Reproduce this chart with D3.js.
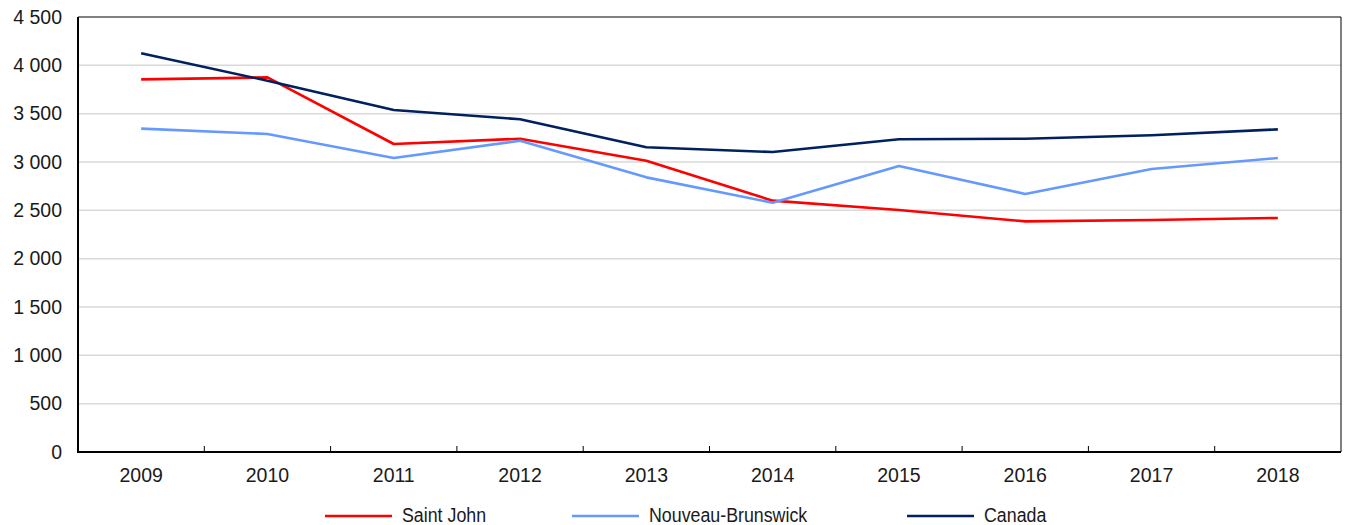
<!DOCTYPE html>
<html>
<head>
<meta charset="utf-8">
<script src="https://cdn.jsdelivr.net/npm/d3@7"></script>
<style>
  body { margin: 0; background: #fff; }
  svg { display: block; font-family: "Liberation Sans", Arial, sans-serif; }
</style>
</head>
<body>
<main></main>
<script>
let years = ['2009', '2010', '2011', '2012', '2013', '2014', '2015', '2016', '2017', '2018']
let saintJohn = [3855, 3875, 3186, 3241, 3013, 2600, 2503, 2386, 2400, 2421]
let nouveauBrunswick = [3345, 3290, 3041, 3220, 2841, 2579, 2959, 2669, 2928, 3041]
let canada = [4124, 3841, 3538, 3442, 3152, 3103, 3235, 3241, 3276, 3338]
let yTicks = [0, 500, 1000, 1500, 2000, 2500, 3000, 3500, 4000, 4500]

let series = [
    { name: 'Saint John', values: saintJohn, color: '#ff0000' },
    { name: 'Nouveau-Brunswick', values: nouveauBrunswick, color: '#6699ff' },
    { name: 'Canada', values: canada, color: '#002060' }
]

let width = 1346, height = 525
let plotLeft = 78, plotRight = 1341, plotTop = 17, plotBottom = 452

let svg = d3.select('main')
    .append('svg')
    .attr('width', width)
    .attr('height', height)

let x = d3.scaleBand().domain(years).range([plotLeft, plotRight])
let y = d3.scaleLinear().domain([0, 4500]).range([plotBottom, plotTop])

// gridlines
svg.append('g')
    .selectAll('line')
    .data(yTicks.slice(1, -1))
    .join('line')
    .attr('x1', plotLeft)
    .attr('x2', plotRight)
    .attr('y1', d => y(d))
    .attr('y2', d => y(d))
    .style('stroke', '#d9d9d9')
    .style('stroke-width', '1.5px')

// frame (top + right)
svg.append('path')
    .attr('d', `M${plotLeft},${plotTop}H${plotRight}V${plotBottom}`)
    .style('fill', 'none')
    .style('stroke', '#000')
    .style('stroke-width', '1px')

// y labels
let fmt = v => d3.format(',')(v).replace(/,/g, ' ')
svg.append('g')
    .selectAll('text')
    .data(yTicks)
    .join('text')
    .attr('x', 62)
    .attr('y', d => y(d))
    .attr('dy', '0.35em')
    .attr('text-anchor', 'end')
    .style('font-size', '19.5px')
    .style('fill', '#1a1a1a')
    .text(fmt)

// x ticks at band boundaries
svg.append('g')
    .selectAll('line')
    .data(years.slice(1))
    .join('line')
    .attr('x1', d => x(d))
    .attr('x2', d => x(d))
    .attr('y1', plotBottom)
    .attr('y2', plotBottom - 6)
    .style('stroke', '#000')
    .style('stroke-width', '1px')

svg.append('g')
    .selectAll('text')
    .data(years)
    .join('text')
    .attr('x', d => x(d) + x.bandwidth() / 2)
    .attr('y', 482)
    .attr('text-anchor', 'middle')
    .style('font-size', '19.5px')
    .style('fill', '#1a1a1a')
    .text(d => d)

// lines
let line = d3.line()
    .x((d, i) => x(years[i]) + x.bandwidth() / 2)
    .y(d => y(d))

series.forEach(s => {
    svg.append('path')
        .datum(s.values)
        .attr('d', line)
        .style('fill', 'none')
        .style('stroke', s.color)
        .style('stroke-width', '2.6px')
        .style('stroke-linejoin', 'round')
})

// axes left + bottom
svg.append('path')
    .attr('d', `M${plotLeft},${plotTop}V${plotBottom}H${plotRight}`)
    .style('fill', 'none')
    .style('stroke', '#000')
    .style('stroke-width', '2px')

// legend
let legendX = [325, 572, 907]
let legend = svg.append('g')
    .selectAll('g')
    .data(series)
    .join('g')
    .attr('transform', (d, i) => `translate(${legendX[i]},516)`)

legend.append('line')
    .attr('x1', 0)
    .attr('x2', 67)
    .style('stroke', d => d.color)
    .style('stroke-width', '2.6px')

// legend text is a bit condensed in the reference
legend.append('text')
    .attr('transform', 'translate(77,6) scale(0.89,1)')
    .style('font-size', '20px')
    .style('fill', '#1a1a1a')
    .text(d => d.name)
</script>
</body>
</html>
